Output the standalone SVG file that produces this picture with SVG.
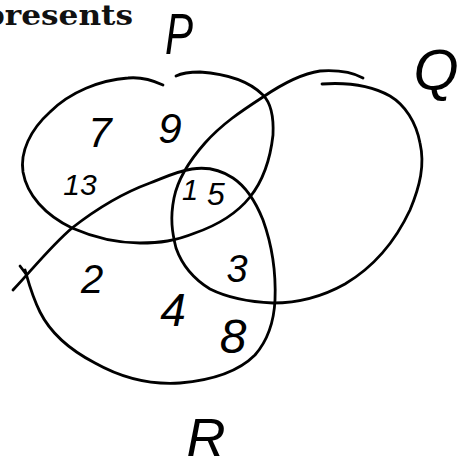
<svg xmlns="http://www.w3.org/2000/svg" width="465" height="467" viewBox="0 0 465 467">
<style>
.c{fill:none;stroke:#000;stroke-width:2.8;stroke-linecap:round;stroke-linejoin:round}
.h{font-family:"Liberation Sans","DejaVu Sans",sans-serif;font-style:italic;fill:#000;text-anchor:middle}
.t{font-family:"DejaVu Serif","Liberation Serif",serif;font-weight:bold;fill:#111}
</style>
<rect width="465" height="467" fill="#fff"/>
<text class="t" x="-17" y="25" font-size="28" textLength="150" lengthAdjust="spacingAndGlyphs">presents</text>
<g id="setP">
<path class="c" d="M163 85 C150 79 138 77 128 78 C100 80 70 92 50 112 C30 130 20 152 23 172 C27 195 45 215 72 228 C95 238 118 243 140 243 C160 243 175 241 195 233 C218 225 238 212 250 197 C262 182 270 162 273 135 C274 114 270 102 263 95 C250 82 228 74 200 72 C190 72 182 73 176 76"/>
</g>
<g id="setQ">
<path class="c" d="M363 78 C350 71 335 70 320 71 C300 74 282 84 263 97 C240 112 222 124 205 143 C190 160 178 178 174 198 C170 218 172 232 176 248 C182 265 192 278 210 289 C230 299 250 302 273 303 C295 303 320 298 345 284 C372 268 395 242 410 210 C420 186 425 165 420 143 C416 122 405 105 390 96 C372 86 350 82 322 84"/>
</g>
<g id="setR">
<path class="c" d="M13 290 C32 270 50 247 72 228 C95 210 120 194 150 183 C168 176 178 171 192 169 C205 167 218 168 233 178 C245 186 255 200 263 220 C272 245 276 275 275 300 C274 322 268 340 255 355 C240 370 215 380 180 383 C150 385 120 377 95 363 C70 350 50 332 40 312 C32 296 29 284 25 270"/>
<path class="c" d="M20 266 L26 274"/>
</g>
<g id="labels">
<text class="h" x="179" y="54" font-size="58" textLength="28" lengthAdjust="spacingAndGlyphs">P</text>
<text class="h" x="436" y="90" font-size="58">Q</text>
<text class="h" x="206" y="456" font-size="54">R</text>
</g>
<g id="elements">
<text class="h" x="100" y="147" font-size="42">7</text>
<text class="h" x="170" y="143" font-size="42">9</text>
<text class="h" x="80" y="195" font-size="30">13</text>
<text class="h" x="190" y="200" font-size="29">1</text>
<text class="h" x="216" y="205" font-size="32">5</text>
<text class="h" x="92" y="293" font-size="40">2</text>
<text class="h" x="173" y="326" font-size="46">4</text>
<text class="h" x="237" y="282" font-size="38">3</text>
<text class="h" x="233" y="353" font-size="48">8</text>
</g>
</svg>
